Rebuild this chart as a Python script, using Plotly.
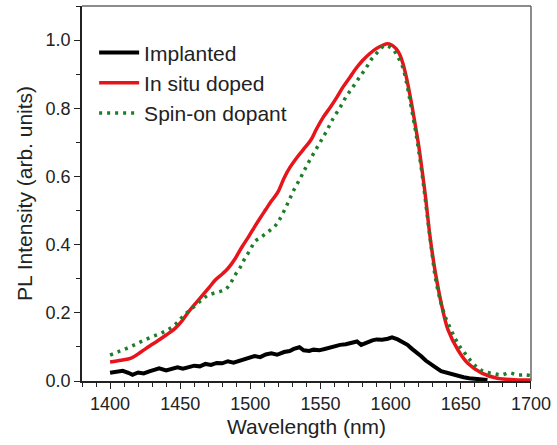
import plotly.graph_objects as go

# Wavelength (nm) and normalised PL intensity for each sample
wl_implanted = [1400, 1405, 1409, 1413, 1416, 1420, 1424, 1428, 1432, 1435,
                1440, 1444, 1448, 1452, 1456, 1460, 1464, 1468, 1472, 1476,
                1480, 1484, 1488, 1491, 1495, 1499, 1503, 1507, 1511, 1515,
                1519, 1524, 1528, 1531, 1535, 1538, 1542, 1545, 1549, 1553,
                1557, 1561, 1564, 1568, 1572, 1576, 1579, 1583, 1587, 1590,
                1594, 1598, 1601, 1605, 1608, 1612, 1615, 1618, 1622, 1625,
                1628, 1632, 1636, 1640, 1644, 1648, 1652, 1656, 1660, 1665,
                1669]
pl_implanted = [0.024, 0.026, 0.030, 0.024, 0.018, 0.025, 0.022, 0.028, 0.033, 0.037,
                0.031, 0.035, 0.040, 0.036, 0.042, 0.045, 0.043, 0.050, 0.047, 0.053,
                0.052, 0.058, 0.054, 0.058, 0.063, 0.068, 0.073, 0.070, 0.078, 0.081,
                0.077, 0.085, 0.088, 0.094, 0.099, 0.090, 0.088, 0.092, 0.090, 0.094,
                0.099, 0.103, 0.106, 0.108, 0.112, 0.116, 0.106, 0.113, 0.119, 0.122,
                0.121, 0.124, 0.128, 0.122, 0.116, 0.106, 0.095, 0.086, 0.072, 0.060,
                0.050, 0.040, 0.029, 0.024, 0.020, 0.016, 0.011, 0.008, 0.006, 0.004,
                0.003]

wl_insitu = [1400, 1408, 1415, 1422, 1428, 1434, 1440, 1446, 1451, 1456,
             1461, 1466, 1471, 1475, 1480, 1484, 1489, 1494, 1499, 1503,
             1507, 1511, 1515, 1519.5, 1524, 1528, 1533.5, 1538, 1543, 1547,
             1552, 1557, 1561.6, 1566, 1571, 1575, 1580, 1585, 1589.7, 1594,
             1598, 1601, 1604, 1606.5, 1608.5, 1611, 1613, 1615.5, 1618, 1620,
             1622.5, 1625, 1627, 1629, 1632, 1636.6, 1641, 1648, 1655, 1665,
             1676, 1688, 1700]
pl_insitu = [0.056, 0.061, 0.067, 0.085, 0.102, 0.118, 0.135, 0.153, 0.175, 0.203,
             0.228, 0.252, 0.276, 0.296, 0.314, 0.330, 0.358, 0.393, 0.425, 0.452,
             0.478, 0.503, 0.528, 0.553, 0.595, 0.625, 0.657, 0.680, 0.706, 0.738,
             0.774, 0.803, 0.832, 0.862, 0.891, 0.915, 0.940, 0.960, 0.975, 0.984,
             0.989, 0.985, 0.974, 0.958, 0.935, 0.895, 0.855, 0.800, 0.740, 0.690,
             0.615, 0.535, 0.460, 0.395, 0.315, 0.218, 0.149, 0.091, 0.052, 0.023,
             0.008, 0.004, 0.003]

wl_spinon = [1400, 1406, 1412, 1418, 1423, 1429, 1435, 1440, 1444.5, 1448,
             1451.5, 1456, 1461, 1466, 1470, 1476, 1482, 1486, 1489, 1493,
             1496, 1500, 1503, 1508, 1512.4, 1517, 1521, 1526.5, 1531, 1536,
             1540, 1545, 1550, 1554.6, 1559, 1564, 1568, 1573, 1578, 1582.7,
             1586, 1589.7, 1593, 1595.6, 1598, 1601.5, 1605, 1608.5, 1611, 1613,
             1615.5, 1618, 1620, 1622.5, 1624.5, 1627, 1629.5, 1632, 1635.5, 1639,
             1642.5, 1646, 1649.5, 1653, 1657, 1661, 1664, 1667, 1673, 1679,
             1684.6, 1690, 1696, 1700]
pl_spinon = [0.076, 0.086, 0.096, 0.107, 0.117, 0.128, 0.138, 0.148, 0.159, 0.172,
             0.188, 0.205, 0.222, 0.240, 0.252, 0.260, 0.268, 0.288, 0.310, 0.335,
             0.359, 0.385, 0.408, 0.423, 0.437, 0.452, 0.475, 0.520, 0.560, 0.598,
             0.630, 0.667, 0.702, 0.735, 0.770, 0.803, 0.832, 0.862, 0.892, 0.920,
             0.942, 0.960, 0.975, 0.984, 0.982, 0.974, 0.952, 0.922, 0.882, 0.840,
             0.785, 0.728, 0.675, 0.605, 0.540, 0.455, 0.375, 0.300, 0.235, 0.188,
             0.155, 0.125, 0.100, 0.081, 0.060, 0.042, 0.033, 0.027, 0.022, 0.018,
             0.024, 0.018, 0.018, 0.016]

x_ticks = [1400, 1450, 1500, 1550, 1600, 1650, 1700]
y_ticks = [0.0, 0.2, 0.4, 0.6, 0.8, 1.0]

FONT = "Liberation Sans, Arial, sans-serif"

fig = go.Figure()
fig.add_trace(go.Scatter(x=wl_implanted, y=pl_implanted, mode="lines",
                         name="Implanted",
                         line=dict(color="black", width=4)))
fig.add_trace(go.Scatter(x=wl_insitu, y=pl_insitu, mode="lines",
                         name="In situ doped", line_shape="spline",
                         line=dict(color="#e8141b", width=3.5)))
fig.add_trace(go.Scatter(x=wl_spinon, y=pl_spinon, mode="lines",
                         name="Spin-on dopant", line_shape="spline",
                         line=dict(color="#1e7d28", width=3.5, dash="3px,5px")))

# grey frame on top and right sides
fig.add_shape(type="line", xref="paper", yref="paper", x0=0, x1=1, y0=1, y1=1,
              line=dict(color="#666666", width=1.5))
fig.add_shape(type="line", xref="paper", yref="paper", x0=1, x1=1, y0=0, y1=1,
              line=dict(color="#666666", width=1.5))

fig.update_layout(
    width=557, height=445,
    margin=dict(l=82, r=20, t=6, b=64),
    paper_bgcolor="white", plot_bgcolor="white",
    font=dict(family=FONT, color="#222222"),
    showlegend=True,
    legend=dict(x=0.027, y=0.93, xanchor="left", yanchor="top",
                bgcolor="rgba(0,0,0,0)", font=dict(size=21, color="#222222"),
                itemwidth=40, tracegroupgap=0),
    xaxis=dict(range=[1380, 1700.05], tickvals=x_ticks, ticks="outside",
               ticklen=6, tickwidth=1.2, tickcolor="#222222",
               showline=True, linecolor="#222222", linewidth=1.5,
               showgrid=False, zeroline=False, ticklabeloverflow="allow",
               tickfont=dict(size=18),
               minor=dict(dtick=10, tick0=1400, ticks="outside", ticklen=4,
                          tickwidth=1.2, tickcolor="#222222", showgrid=False),
               title=dict(text="Wavelength (nm)", font=dict(size=21), standoff=6)),
    yaxis=dict(range=[0, 1.1], tickvals=y_ticks, tickformat=".1f",
               ticks="outside", ticklen=6, tickwidth=1.2, tickcolor="#222222",
               showline=True, linecolor="#222222", linewidth=1.5,
               showgrid=False, zeroline=False,
               tickfont=dict(size=18),
               minor=dict(dtick=0.1, tick0=0, ticks="outside", ticklen=4,
                          tickwidth=1.2, tickcolor="#222222", showgrid=False),
               title=dict(text="PL Intensity (arb. units)", font=dict(size=21),
                          standoff=7)),
)

fig.write_html("out.html")
